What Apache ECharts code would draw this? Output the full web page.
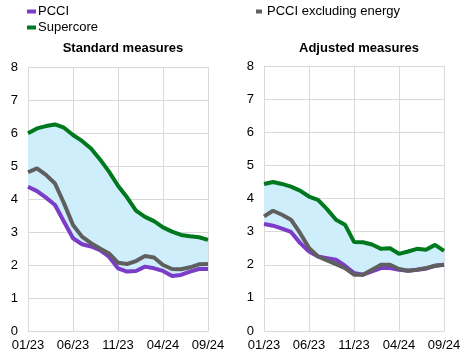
<!DOCTYPE html>
<html><head><meta charset="utf-8">
<script src="https://cdn.jsdelivr.net/npm/echarts@6/dist/echarts.min.js"></script>
<style>html,body{margin:0;padding:0;background:#fff}#c{width:473px;height:358px}</style>
</head><body><div id="c"></div>
<script>
var months = ["01/23","02/23","03/23","04/23","05/23","06/23","07/23","08/23","09/23","10/23","11/23","12/23","01/24","02/24","03/24","04/24","05/24","06/24","07/24","08/24","09/24"];
var yTicks = [0,1,2,3,4,5,6,7,8];
// Standard measures
var stdPCCI = [4.37,4.24,4.04,3.82,3.31,2.81,2.63,2.56,2.45,2.25,1.9,1.8,1.82,1.95,1.9,1.82,1.67,1.7,1.8,1.88,1.88];
var stdExEnergy = [4.81,4.93,4.73,4.47,3.87,3.21,2.86,2.66,2.5,2.35,2.07,2.03,2.12,2.27,2.23,2.0,1.88,1.87,1.93,2.02,2.03];
var stdSupercore = [5.99,6.14,6.21,6.26,6.16,5.94,5.76,5.53,5.2,4.83,4.4,4.05,3.65,3.46,3.33,3.14,3.01,2.91,2.87,2.84,2.76];
// Adjusted measures
var adjPCCI = [3.23,3.18,3.09,2.99,2.66,2.4,2.25,2.2,2.15,1.97,1.75,1.7,1.8,1.9,1.9,1.85,1.82,1.85,1.88,1.97,2.0];
var adjExEnergy = [3.46,3.63,3.51,3.36,2.96,2.51,2.25,2.13,2.02,1.9,1.7,1.7,1.85,2.0,2.0,1.87,1.82,1.85,1.9,1.97,2.0];
var adjSupercore = [4.44,4.5,4.44,4.36,4.24,4.06,3.96,3.68,3.36,3.21,2.69,2.68,2.61,2.48,2.5,2.33,2.4,2.48,2.45,2.6,2.42];

var C_PCCI = '#7b3cc8', C_EX = '#5f5f5f', C_SC = '#00781e', C_FILL = '#cdeefa';
var FONT = 'Liberation Sans, Arial, sans-serif';

function band(a,b,c){
  var lo=[],hi=[];
  for(var i=0;i<a.length;i++){var mn=Math.min(a[i],b[i],c[i]),mx=Math.max(a[i],b[i],c[i]);lo.push(mn);hi.push(+(mx-mn).toFixed(3));}
  return {lo:lo,hi:hi};
}
var sb = band(stdPCCI,stdExEnergy,stdSupercore);
var ab = band(adjPCCI,adjExEnergy,adjSupercore);

function xAx(gi){
  return {type:'category',gridIndex:gi,data:months,boundaryGap:false,
    axisLine:{show:true,lineStyle:{color:'#d9d9d9',width:1}},
    axisTick:{show:false},
    axisLabel:{interval:4,color:'#000',fontFamily:FONT,fontSize:13,margin:8,showMaxLabel:true},
    splitLine:{show:true,interval:4,lineStyle:{color:'#d9d9d9',width:1}}};
}
function yAx(gi){
  return {type:'value',gridIndex:gi,min:0,max:8,interval:1,
    axisLine:{show:true,lineStyle:{color:'#d9d9d9'}},axisTick:{show:false},
    axisLabel:{color:'#000',fontFamily:FONT,fontSize:13,margin:10,formatter:function(v){return yTicks.indexOf(v)>=0?String(v):'';}},
    splitLine:{show:true,lineStyle:{color:'#d9d9d9',width:1}}};
}
function line(name,data,color,gi){
  return {name:name,type:'line',xAxisIndex:gi,yAxisIndex:gi,data:data,symbol:'none',smooth:false,
    lineStyle:{color:color,width:4},itemStyle:{color:color},z:5};
}
function bandSeries(b,gi){
  return [
    {type:'line',xAxisIndex:gi,yAxisIndex:gi,data:b.lo,stack:'band'+gi,symbol:'none',lineStyle:{opacity:0},silent:true,z:1},
    {type:'line',xAxisIndex:gi,yAxisIndex:gi,data:b.hi,stack:'band'+gi,symbol:'none',lineStyle:{opacity:0},areaStyle:{color:C_FILL,opacity:1},silent:true,z:1}
  ];
}

var chart = echarts.init(document.getElementById('c'),null,{renderer:'canvas'});
chart.setOption({
  animation:false,
  backgroundColor:'#fff',
  textStyle:{fontFamily:FONT},
  title:[
    {text:'Standard measures',left:118,top:37,textAlign:'center',textStyle:{fontFamily:FONT,fontSize:13,fontWeight:'bold',color:'#000'}},
    {text:'Adjusted measures',left:354,top:37,textAlign:'center',textStyle:{fontFamily:FONT,fontSize:13,fontWeight:'bold',color:'#000'}}
  ],
  legend:[
    {data:['PCCI','Supercore'],orient:'vertical',left:22,top:0,itemWidth:9,itemHeight:4,itemGap:3,icon:'rect',
     textStyle:{fontFamily:FONT,fontSize:13,color:'#000',padding:[0,0,0,-3]}},
    {data:['PCCI excluding energy'],orient:'vertical',left:251,top:0,itemWidth:6,itemHeight:4,icon:'rect',
     textStyle:{fontFamily:FONT,fontSize:13,color:'#000'}}
  ],
  grid:[
    {left:28,right:265,top:67,bottom:27,containLabel:false},
    {left:264,right:29,top:66,bottom:27,containLabel:false}
  ],
  xAxis:[xAx(0),xAx(1)],
  yAxis:[yAx(0),yAx(1)],
  series:[].concat(
    bandSeries(sb,0),
    [line('PCCI',stdPCCI,C_PCCI,0),line('PCCI excluding energy',stdExEnergy,C_EX,0),line('Supercore',stdSupercore,C_SC,0)],
    bandSeries(ab,1),
    [line('PCCI',adjPCCI,C_PCCI,1),line('PCCI excluding energy',adjExEnergy,C_EX,1),line('Supercore',adjSupercore,C_SC,1)]
  )
});
</script></body></html>
